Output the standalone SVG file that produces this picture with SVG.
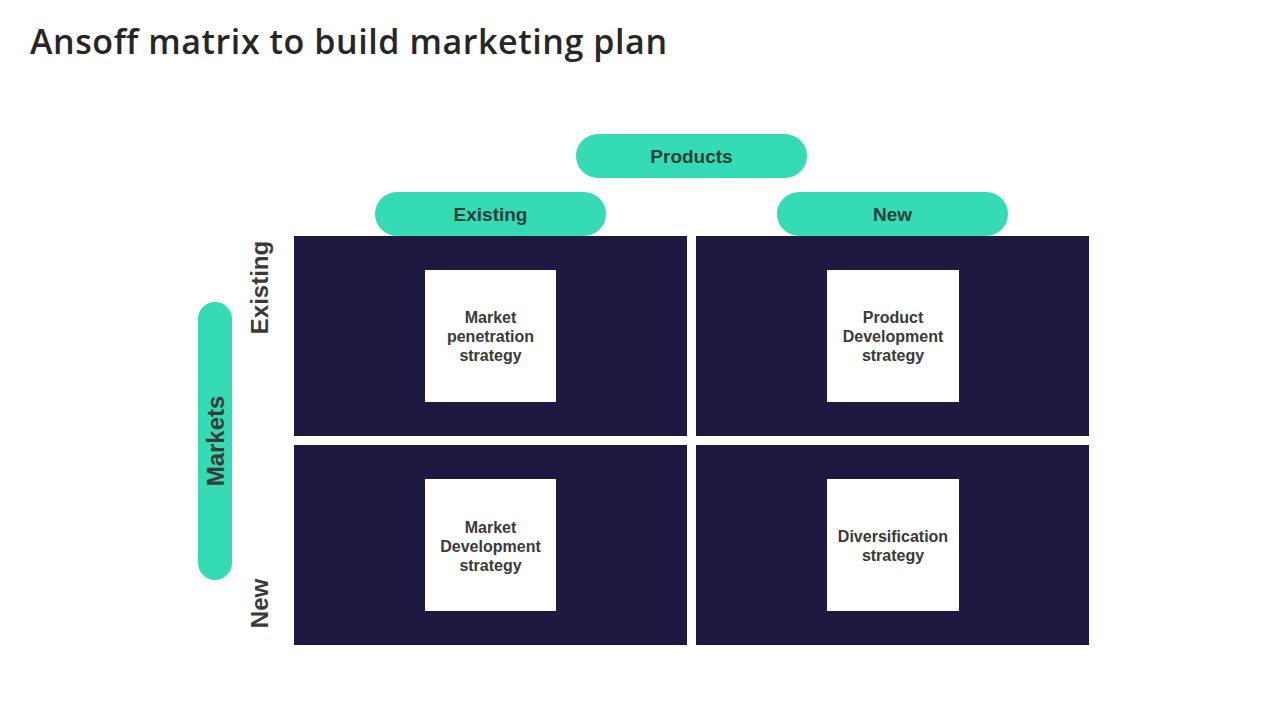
<svg xmlns="http://www.w3.org/2000/svg" width="1280" height="720" viewBox="0 0 1280 720">
  <style>
    .title { font-family: "Open Sans", "Noto Sans", "Liberation Sans", sans-serif; font-size: 34px; font-weight: 600; fill: #262626; }
    .pill { fill: #34DBB4; }
    .pilltxt { font-family: "Liberation Sans", Arial, sans-serif; font-size: 19px; font-weight: bold; fill: #2A3F3A; text-anchor: middle; }
    .axis { font-family: "Liberation Sans", Arial, sans-serif; font-size: 24px; font-weight: bold; fill: #3A3A3A; text-anchor: middle; }
    .cell { fill: #1E1940; }
    .box { fill: #FFFFFF; }
    .celltxt { font-family: "Liberation Sans", Arial, sans-serif; font-size: 16px; font-weight: bold; fill: #3A3A3A; text-anchor: middle; }
  </style>
  <rect width="1280" height="720" fill="#FFFFFF"/>
  <text class="title" x="30" y="54" textLength="637">Ansoff matrix to build marketing plan</text>

  <g id="products">
    <rect class="pill" x="576" y="134" width="231" height="44" rx="22"/>
    <text class="pilltxt" x="691.5" y="163">Products</text>
  </g>
  <g id="prod-existing">
    <rect class="pill" x="375" y="192" width="231" height="44" rx="22"/>
    <text class="pilltxt" x="490.5" y="221">Existing</text>
  </g>
  <g id="prod-new">
    <rect class="pill" x="777" y="192" width="231" height="44" rx="22"/>
    <text class="pilltxt" x="892.5" y="221">New</text>
  </g>

  <g id="markets">
    <rect class="pill" x="198" y="302" width="34" height="278" rx="17"/>
    <text class="axis" transform="translate(223.5,441) rotate(-90)">Markets</text>
  </g>
  <g id="mkt-existing">
    <text class="axis" transform="translate(268,287.5) rotate(-90)">Existing</text>
  </g>
  <g id="mkt-new">
    <text class="axis" transform="translate(268,603.5) rotate(-90)">New</text>
  </g>

  <g id="cell-penetration">
    <rect class="cell" x="294" y="236" width="393" height="200"/>
    <rect class="box" x="425" y="270" width="131" height="132"/>
    <text class="celltxt" x="490.5" y="323">Market</text>
    <text class="celltxt" x="490.5" y="342">penetration</text>
    <text class="celltxt" x="490.5" y="361">strategy</text>
  </g>
  <g id="cell-product-dev">
    <rect class="cell" x="696" y="236" width="393" height="200"/>
    <rect class="box" x="827" y="270" width="132" height="132"/>
    <text class="celltxt" x="893" y="323">Product</text>
    <text class="celltxt" x="893" y="342">Development</text>
    <text class="celltxt" x="893" y="361">strategy</text>
  </g>
  <g id="cell-market-dev">
    <rect class="cell" x="294" y="445" width="393" height="200"/>
    <rect class="box" x="425" y="479" width="131" height="132"/>
    <text class="celltxt" x="490.5" y="533">Market</text>
    <text class="celltxt" x="490.5" y="552">Development</text>
    <text class="celltxt" x="490.5" y="571">strategy</text>
  </g>
  <g id="cell-diversification">
    <rect class="cell" x="696" y="445" width="393" height="200"/>
    <rect class="box" x="827" y="479" width="132" height="132"/>
    <text class="celltxt" x="893" y="542">Diversification</text>
    <text class="celltxt" x="893" y="561">strategy</text>
  </g>

  <g id="connectors"></g>
</svg>
